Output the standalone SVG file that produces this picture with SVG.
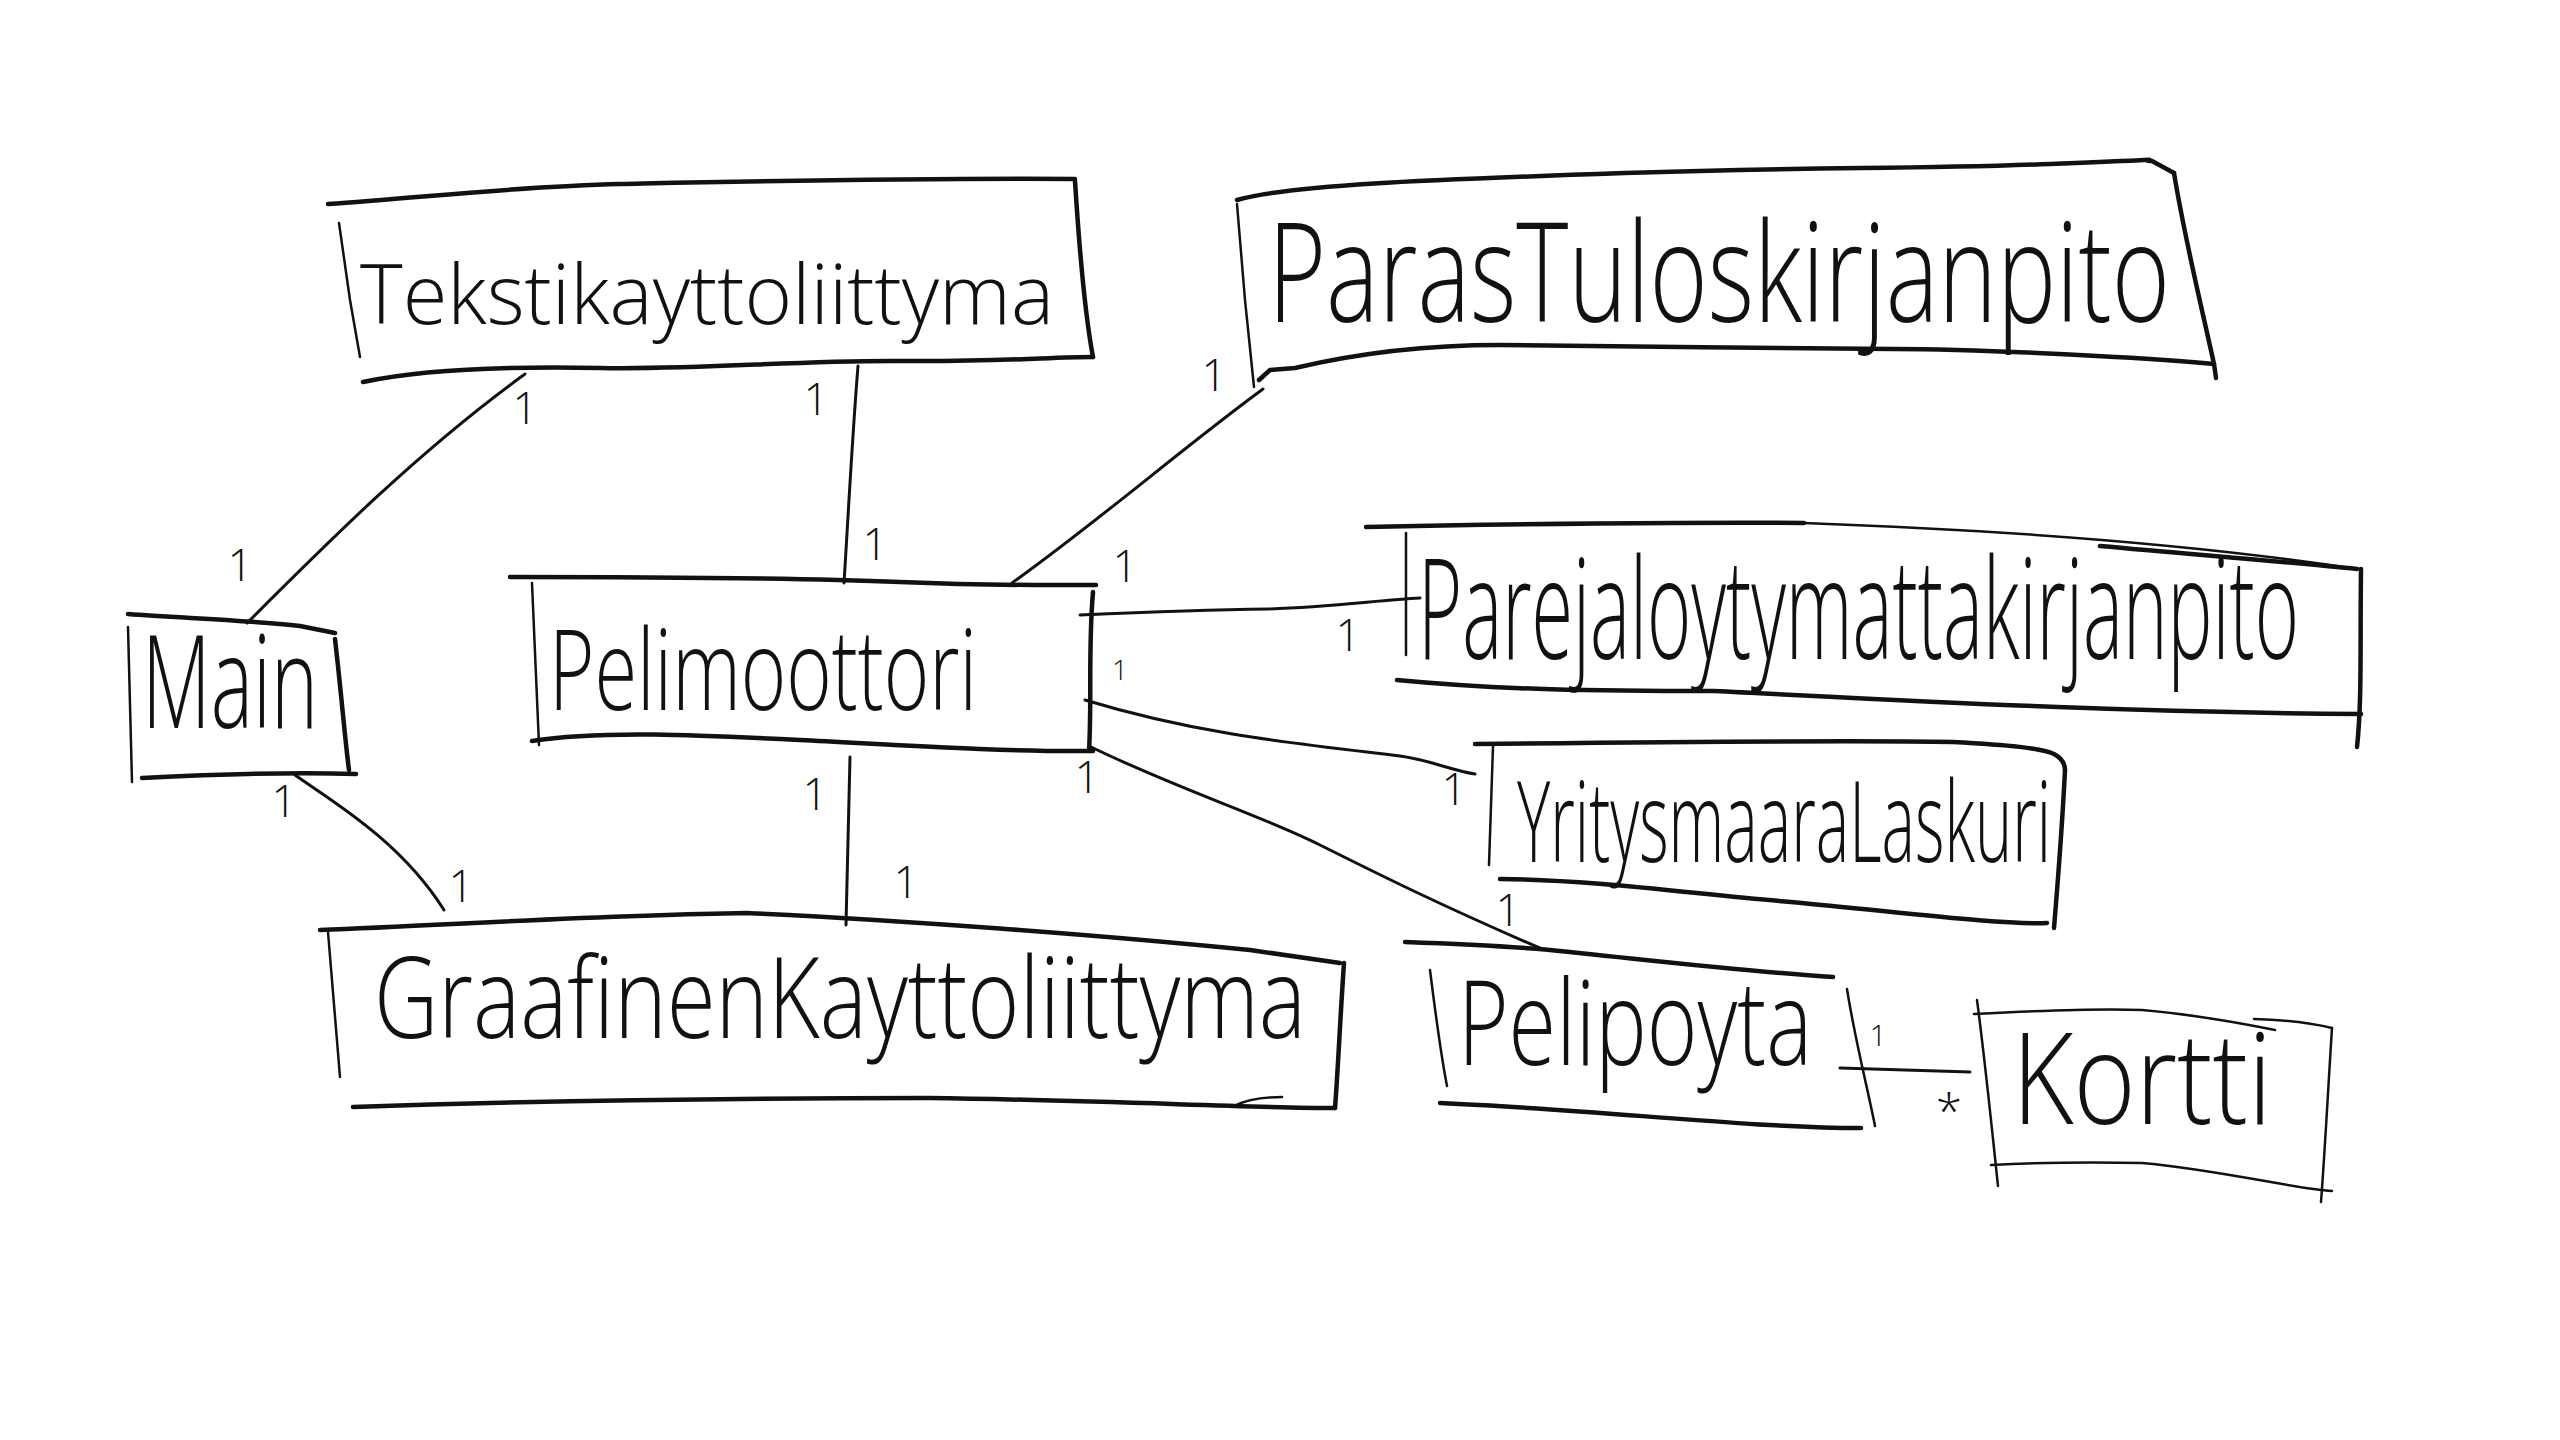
<svg xmlns="http://www.w3.org/2000/svg" width="2560" height="1440" viewBox="0 0 2560 1440">
<style>
.bg{fill:#ffffff}
.e{fill:none;stroke:#111;stroke-width:4.5;stroke-linecap:round;stroke-linejoin:round}
.s{fill:none;stroke:#111;stroke-width:2.5;stroke-linecap:round;stroke-linejoin:round}
.c{fill:none;stroke:#111;stroke-width:3;stroke-linecap:round;stroke-linejoin:round}
.t{font-family:"Open Sans","Liberation Sans",sans-serif;font-weight:300;fill:#111}
.m{font-family:"Open Sans","Liberation Sans",sans-serif;font-weight:300;font-size:44px;fill:#111;text-anchor:middle}
</style>
<rect class="bg" x="0" y="0" width="2560" height="1440"/>

<g id="connectors">
  <path class="c" d="M247,623 C330,540 420,450 525,374"/>
  <path class="c" d="M858,366 C852,440 848,520 844,583"/>
  <path class="c" d="M1012,583 C1100,520 1180,450 1263,389"/>
  <path class="c" d="M1080,615 C1150,612 1200,610 1268,609 C1330,607 1380,600 1420,598"/>
  <path class="c" d="M1085,700 C1200,735 1300,744 1400,756 C1430,760 1450,770 1475,774"/>
  <path class="c" d="M1091,747 C1180,790 1260,815 1320,845 C1380,875 1440,905 1542,949"/>
  <path class="c" d="M295,775 C330,800 400,840 444,910"/>
  <path class="c" d="M850,757 C848,820 847,880 846,925"/>
  <path class="c" d="M1840,1068 L1970,1072"/>
  <g id="multiplicities">
    <text class="m" x="240" y="581">1</text>
    <text class="m" x="525" y="424">1</text>
    <text class="m" x="816" y="415">1</text>
    <text class="m" x="875" y="560">1</text>
    <text class="m" x="1214" y="391">1</text>
    <text class="m" x="1125" y="582">1</text>
    <text class="m" x="1120" y="680" style="font-size:28px">1</text>
    <text class="m" x="1348" y="651">1</text>
    <text class="m" x="1454" y="805">1</text>
    <text class="m" x="1087" y="793">1</text>
    <text class="m" x="1508" y="926">1</text>
    <text class="m" x="284" y="817">1</text>
    <text class="m" x="461" y="902">1</text>
    <text class="m" x="815" y="810">1</text>
    <text class="m" x="906" y="898">1</text>
    <text class="m" x="1878" y="1046" style="font-size:30px">1</text>
    <text class="m" x="1949" y="1128" style="font-size:48px">*</text>
  </g>
</g>

<g id="Tekstikayttoliittyma">
  <path class="e" d="M328,204 C420,198 520,186 620,184 S900,178 1075,179"/>
  <path class="e" d="M1075,181 C1080,260 1086,320 1093,357"/>
  <path class="s" d="M339,223 L350,300 L360,357"/>
  <path class="e" d="M363,382 C420,370 500,366 600,368 S800,360 900,361 S1050,357 1093,357"/>
  <text class="t" transform="translate(360,324) scale(1,1.3)" font-size="64" textLength="694" lengthAdjust="spacingAndGlyphs">Tekstikayttoliittyma</text>
</g>

<g id="ParasTuloskirjanpito">
  <path class="e" d="M1237,200 C1290,185 1420,180 1625,173 S1900,170 2050,164 S2130,160 2152,161 L2174,173"/>
  <path class="e" d="M2174,173 C2185,240 2200,300 2214,364 L2216,378"/>
  <path class="s" d="M1237,204 L1245,300 L1254,387"/>
  <path class="e" d="M1259,380 L1270,370 L1295,368 C1350,355 1420,345 1500,345 S1800,349 1893,349 S2150,358 2214,364"/>
  <text class="t" transform="translate(1268,322) scale(1,1.62)" font-size="86" textLength="902" lengthAdjust="spacingAndGlyphs">ParasTuloskirjanpito</text>
</g>

<g id="Main">
  <path class="e" d="M128,614 C180,618 247,620 300,626 L335,633"/>
  <path class="s" d="M128,627 L132,782"/>
  <path class="e" d="M335,639 C342,700 345,740 349,770"/>
  <path class="e" d="M142,778 C220,774 300,772 356,774"/>
  <text class="t" transform="translate(142,728) scale(1,1.7)" font-size="76" textLength="176" lengthAdjust="spacingAndGlyphs">Main</text>
</g>

<g id="Pelimoottori">
  <path class="e" d="M510,577 C650,577 800,578 900,582 S1050,585 1096,585"/>
  <path class="s" d="M532,583 L539,745"/>
  <path class="e" d="M1093,592 C1088,650 1092,700 1089,751"/>
  <path class="e" d="M532,741 C600,730 700,735 800,740 S1000,752 1093,751"/>
  <text class="t" transform="translate(549,710) scale(1,1.42)" font-size="79" textLength="428" lengthAdjust="spacingAndGlyphs">Pelimoottori</text>
</g>

<g id="Parejaloytymattakirjanpito">
  <path class="s" d="M1366,527 C1500,524 1700,522 1804,523 C2000,530 2200,545 2357,569"/>
  <path class="e" d="M1366,527 C1500,524 1700,522 1804,523"/>
  <path class="e" d="M2100,546 C2200,555 2300,563 2357,569"/>
  <path class="e" d="M2361,569 C2360,650 2362,700 2357,747"/>
  <path class="s" d="M1406,533 L1406,655"/>
  <path class="e" d="M1397,680 C1500,690 1600,691 1714,691 C1900,700 2100,712 2361,714"/>
  <text class="t" transform="translate(1418,659) scale(1,1.97)" font-size="71" textLength="881" lengthAdjust="spacingAndGlyphs">Parejaloytymattakirjanpito</text>
</g>

<g id="YritysmaaraLaskuri">
  <path class="e" d="M1475,744 C1650,742 1850,740 1953,742 C2010,745 2040,748 2054,754 Q2065,760 2065,770"/>
  <path class="e" d="M2065,770 C2062,830 2058,880 2054,928"/>
  <path class="s" d="M1493,746 L1489,865"/>
  <path class="e" d="M1500,879 C1600,880 1700,895 1791,902 C1900,912 2000,925 2047,923"/>
  <text class="t" transform="translate(1517,862) scale(1,1.87)" font-size="60" textLength="534" lengthAdjust="spacingAndGlyphs">YritysmaaraLaskuri</text>
</g>

<g id="GraafinenKayttoliittyma">
  <path class="e" d="M320,930 C450,925 600,915 747,913 C900,920 1100,935 1250,950 L1340,963"/>
  <path class="s" d="M328,932 L340,1077"/>
  <path class="e" d="M1344,963 C1340,1020 1338,1070 1335,1108"/>
  <path class="e" d="M353,1107 C500,1102 700,1098 929,1098 C1100,1100 1250,1108 1335,1108"/>
  <path class="s" d="M1232,1107 Q1250,1097 1282,1097"/>
  <text class="t" transform="translate(374,1038) scale(1,1.44)" font-size="78" textLength="932" lengthAdjust="spacingAndGlyphs">GraafinenKayttoliittyma</text>
</g>

<g id="Pelipoyta">
  <path class="e" d="M1405,942 C1460,944 1500,946 1539,949 C1650,960 1750,972 1833,977"/>
  <path class="s" d="M1430,970 C1435,1010 1440,1050 1447,1086"/>
  <path class="s" d="M1847,989 C1855,1040 1868,1090 1875,1126"/>
  <path class="e" d="M1440,1103 C1600,1110 1750,1128 1861,1128"/>
  <text class="t" transform="translate(1458,1065) scale(1,1.47)" font-size="80" textLength="354" lengthAdjust="spacingAndGlyphs">Pelipoyta</text>
</g>

<g id="Kortti">
  <path class="s" d="M1974,1014 C2050,1010 2100,1008 2142,1010 C2200,1015 2250,1025 2275,1030"/>
  <path class="s" d="M2254,1019 C2290,1020 2315,1024 2332,1028"/>
  <path class="s" d="M1977,1000 C1985,1060 1992,1130 1998,1186"/>
  <path class="s" d="M2332,1028 C2328,1090 2325,1150 2321,1202"/>
  <path class="s" d="M1991,1165 C2050,1162 2100,1162 2142,1163 C2220,1170 2290,1188 2332,1191"/>
  <text class="t" transform="translate(2012,1124) scale(1,1.46)" font-size="87" textLength="260" lengthAdjust="spacingAndGlyphs">Kortti</text>
</g>
</svg>
